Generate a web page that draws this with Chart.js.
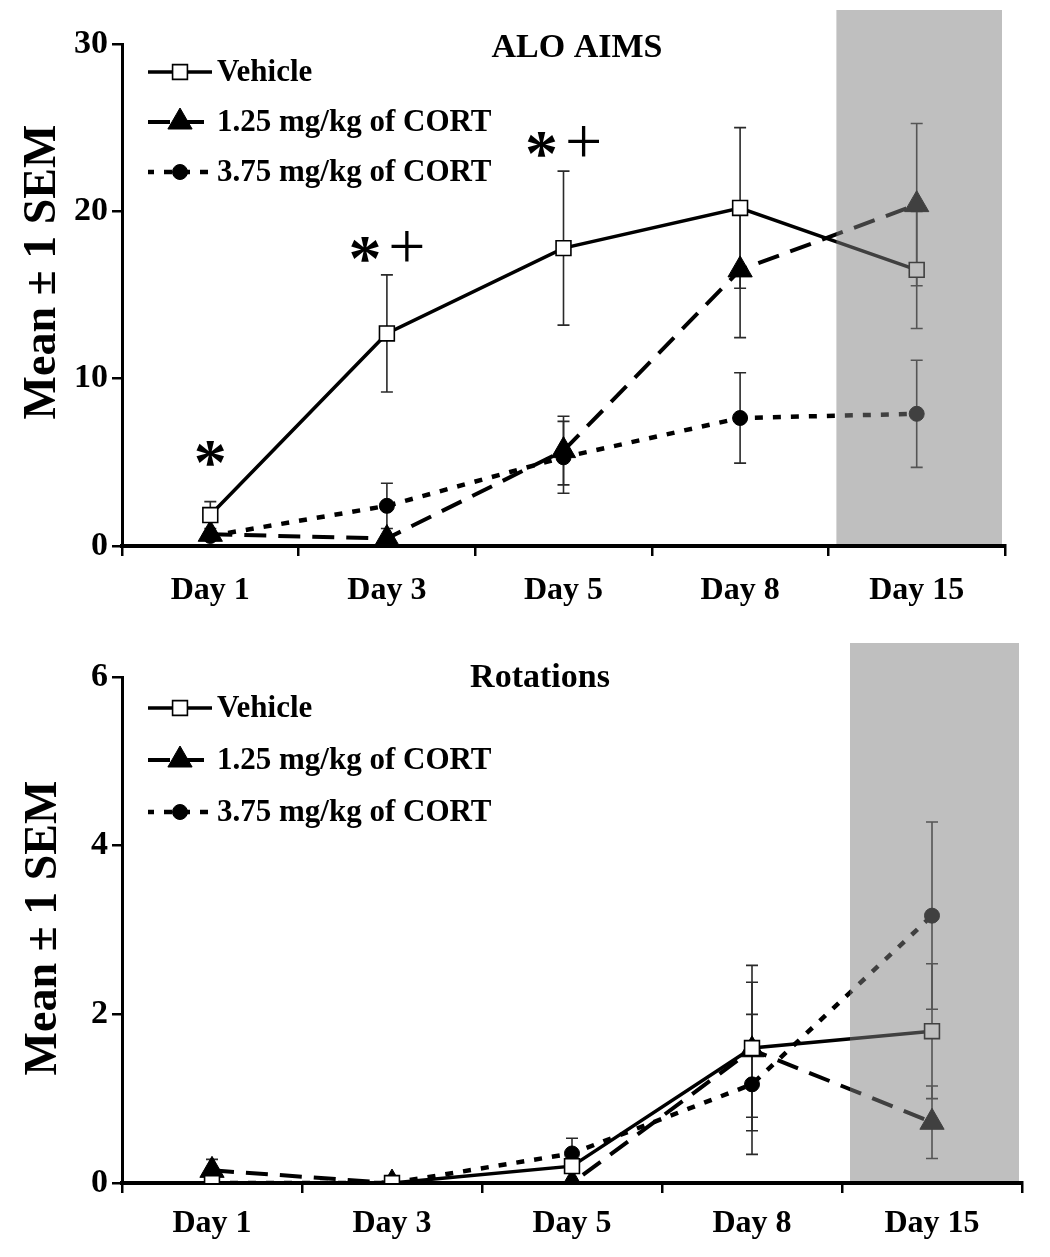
<!DOCTYPE html>
<html><head><meta charset="utf-8">
<script src="https://cdn.jsdelivr.net/npm/chart.js@4/dist/chart.umd.min.js"></script>
<style>
body{margin:0;background:#fff;width:1050px;height:1257px;overflow:hidden;position:relative}
.wrap{position:absolute;left:0;width:1050px}
</style></head>
<body>
<div class="wrap" style="top:0;height:620px"><canvas id="c1" width="1050" height="620"></canvas></div>
<div class="wrap" style="top:625px;height:632px"><canvas id="c2" width="1050" height="632"></canvas></div>
<script>
// ---------- data ----------
const days = ['Day 1','Day 3','Day 5','Day 8','Day 15'];
const seriesNames = ['Vehicle','1.25 mg/kg of CORT','3.75 mg/kg of CORT'];
const yAxisTitle = 'Mean \u00B1 1 SEM';

const aimsTitle = 'ALO AIMS';
const aimsTicks = [0, 10, 20, 30];
const aimsVehicle = [1.85, 12.7, 17.8, 20.2, 16.5];
const aimsVehicleSem = [0.8, 3.5, 4.6, 4.8, 3.5];
const aimsLow = [0.7, 0.45, 5.7, 16.5, 20.4];
const aimsLowSem = [0, 0, 2.05, 4.05, 4.85];
const aimsHigh = [0.6, 2.4, 5.3, 7.65, 7.9];
const aimsHighSem = [0, 1.35, 2.15, 2.7, 3.2];
const aimsStars = ['*', '*', '*', '', ''];
const aimsPlus = ['', '+', '+', '', ''];
const aimsMarkLevel = [4.5, 17.7, 24.0, null, null];

const rotTitle = 'Rotations';
const rotTicks = [0, 2, 4, 6];
const rotVehicle = [0, 0, 0.2, 1.6, 1.8];
const rotVehicleSem = [0, 0, 0.05, 0.98, 0.8];
const rotLow = [0.15, 0, 0, 1.58, 0.72];
const rotLowSem = [0.13, 0.04, 0, 0.8, 0.43];
const rotHigh = [0, 0, 0.35, 1.17, 3.17];
const rotHighSem = [0, 0, 0.18, 0.83, 1.11];
const rotStars = ['', '', '', '', ''];
const rotPlus = ['', '', '', '', ''];
const rotMarkLevel = [null, null, null, null, null];

// ---------- styles ----------
const SERIF = "'Liberation Serif','Times New Roman',serif";
const seriesStyle = [
  {dash: [], width: 3.5, pointStyle: 'rect', radius: 10.5, fill: '#ffffff', border: '#000', bw: 1.6},
  {dash: [22, 12], width: 4, pointStyle: 'triangle', radius: 14, fill: '#000', border: '#000', bw: 1},
  {dash: [8, 10], width: 4.5, pointStyle: 'circle', radius: 7.5, fill: '#000', border: '#000', bw: 1}
];

const customPlugin = {
  id: 'custom',
  beforeDatasetsDraw(chart) {
    const o = chart.options.plugins.custom;
    const ctx = chart.ctx, ys = chart.scales.y;
    ctx.save();
    ctx.strokeStyle = '#2a2a2a';
    ctx.lineWidth = 1.6;
    o.sems.forEach((sem, i) => {
      const meta = chart.getDatasetMeta(i);
      const vals = chart.data.datasets[i].data;
      sem.forEach((s, j) => {
        if (!s) return;
        const x = meta.data[j].x;
        const t = ys.getPixelForValue(vals[j] + s);
        const b = ys.getPixelForValue(Math.max(0, vals[j] - s));
        ctx.beginPath();
        ctx.moveTo(x, t); ctx.lineTo(x, b);
        ctx.moveTo(x - 6, t); ctx.lineTo(x + 6, t);
        if (vals[j] - s > 0) { ctx.moveTo(x - 6, b); ctx.lineTo(x + 6, b); }
        ctx.stroke();
      });
    });
    ctx.restore();
  },
  afterDatasetsDraw(chart) {
    const o = chart.options.plugins.custom;
    const ctx = chart.ctx, xs = chart.scales.x, a = chart.chartArea;
    const step = xs.getPixelForValue(1) - xs.getPixelForValue(0);
    const left = xs.getPixelForValue(o.shadeFrom) - step / 2 + 8;
    ctx.save();
    ctx.fillStyle = 'rgba(128,128,128,0.5)';
    ctx.fillRect(left, o.shadeTop, a.right - 3 - left, a.bottom - 2 - o.shadeTop);
    ctx.restore();
  },
  afterDraw(chart) {
    const o = chart.options.plugins.custom;
    const ctx = chart.ctx, xs = chart.scales.x, ys = chart.scales.y;
    ctx.save();
    ctx.fillStyle = '#000';
    // title
    ctx.font = 'bold 34px ' + SERIF;
    ctx.textAlign = 'center'; ctx.textBaseline = 'middle';
    ctx.fillText(o.title, o.titleX, o.titleY);
    // y axis title
    ctx.save();
    ctx.translate(o.yTitleX, o.yTitleY);
    ctx.rotate(-Math.PI / 2);
    ctx.font = 'bold 46px ' + SERIF;
    ctx.fillText(yAxisTitle, 0, 0);
    ctx.restore();
    // legend
    ctx.font = 'bold 31px ' + SERIF;
    ctx.textAlign = 'left';
    chart.data.datasets.forEach((ds, i) => {
      const st = seriesStyle[i];
      const y = o.legendY[i];
      ctx.save();
      ctx.strokeStyle = '#000'; ctx.lineWidth = st.width;
      ctx.setLineDash(st.dash);
      ctx.lineDashOffset = o.legendDashOffset[i];
      ctx.beginPath(); ctx.moveTo(148, y); ctx.lineTo(212, y); ctx.stroke();
      ctx.setLineDash([]);
      ctx.fillStyle = st.fill; ctx.strokeStyle = st.border; ctx.lineWidth = st.bw;
      Chart.helpers.drawPoint(ctx, {pointStyle: st.pointStyle, radius: st.radius, borderWidth: st.bw}, 180, y);
      ctx.restore();
      ctx.fillText(ds.label, 217, y + 1);
    });
    // significance marks
    o.stars.forEach((s, j) => {
      const lvl = o.markLevel[j];
      if (lvl == null) return;
      const x = xs.getPixelForValue(j), y = ys.getPixelForValue(lvl);
      const both = s && o.plus[j];
      if (s) {
        ctx.font = 'bold 66px ' + SERIF;
        const m = ctx.measureText(s);
        ctx.textAlign = 'center'; ctx.textBaseline = 'alphabetic';
        const yy = y + (m.actualBoundingBoxAscent - m.actualBoundingBoxDescent) / 2;
        ctx.fillText(s, both ? x - 22 : x, yy);
      }
      if (o.plus[j]) {
        ctx.font = '66px ' + SERIF;
        const m = ctx.measureText(o.plus[j]);
        ctx.textAlign = 'center'; ctx.textBaseline = 'alphabetic';
        const yy = y - 3 + (m.actualBoundingBoxAscent - m.actualBoundingBoxDescent) / 2;
        ctx.fillText(o.plus[j], x + 20, yy);
      }
    });
    ctx.restore();
  }
};

function makeChart(id, vals, sems, ticks, custom, pad, xHeight, labelPad) {
  const datasets = vals.map((v, i) => {
    const st = seriesStyle[i];
    return {
      label: seriesNames[i], data: v,
      borderColor: '#000', borderWidth: st.width, borderDash: st.dash,
      pointStyle: st.pointStyle, pointRadius: st.radius, pointHoverRadius: st.radius,
      pointBackgroundColor: st.fill, pointBorderColor: st.border, pointBorderWidth: st.bw,
      tension: 0, fill: false
    };
  });
  custom.sems = sems;
  return new Chart(document.getElementById(id), {
    type: 'line',
    data: {labels: days, datasets},
    plugins: [customPlugin],
    options: {
      responsive: false, animation: false, devicePixelRatio: 1,
      layout: {padding: pad},
      plugins: {legend: {display: false}, tooltip: {enabled: false}, title: {display: false}, custom},
      scales: {
        x: {
          type: 'category', offset: true,
          grid: {display: true, offset: true, drawOnChartArea: false, drawTicks: true, tickLength: 10, color: '#000', lineWidth: 2.5},
          border: {display: true, color: '#000', width: 4},
          ticks: {color: '#000', font: {family: SERIF, size: 32, weight: 'bold'}, padding: labelPad, maxRotation: 0},
          afterFit: s => { s.height = xHeight; }
        },
        y: {
          min: ticks[0], max: ticks[ticks.length - 1],
          grid: {display: true, drawOnChartArea: false, drawTicks: true, tickLength: 10, color: '#000', lineWidth: 2.5},
          border: {display: true, color: '#000', width: 3},
          ticks: {stepSize: ticks[1] - ticks[0], color: '#000', padding: 4, font: {family: SERIF, size: 34, weight: 'bold'}},
          afterFit: s => { s.width = 122; }
        }
      }
    }
  });
}

makeChart('c1', [aimsVehicle, aimsLow, aimsHigh], [aimsVehicleSem, aimsLowSem, aimsHighSem], aimsTicks, {
  title: aimsTitle, titleX: 577, titleY: 48,
  yTitleX: 43, yTitleY: 272,
  legendY: [72, 122, 172], legendDashOffset: [0, 0, 2],
  shadeFrom: 4, shadeTop: 10,
  stars: aimsStars, plus: aimsPlus, markLevel: aimsMarkLevel
}, {top: 44, right: 45, left: 0, bottom: 0}, 74, 16);

makeChart('c2', [rotVehicle, rotLow, rotHigh], [rotVehicleSem, rotLowSem, rotHighSem], rotTicks, {
  title: rotTitle, titleX: 540, titleY: 53,
  yTitleX: 44, yTitleY: 303,
  legendY: [83, 135, 187], legendDashOffset: [0, 0, 2],
  shadeFrom: 4, shadeTop: 18,
  stars: rotStars, plus: rotPlus, markLevel: rotMarkLevel
}, {top: 52, right: 28, left: 0, bottom: 0}, 74, 12);
</script>
</body></html>
